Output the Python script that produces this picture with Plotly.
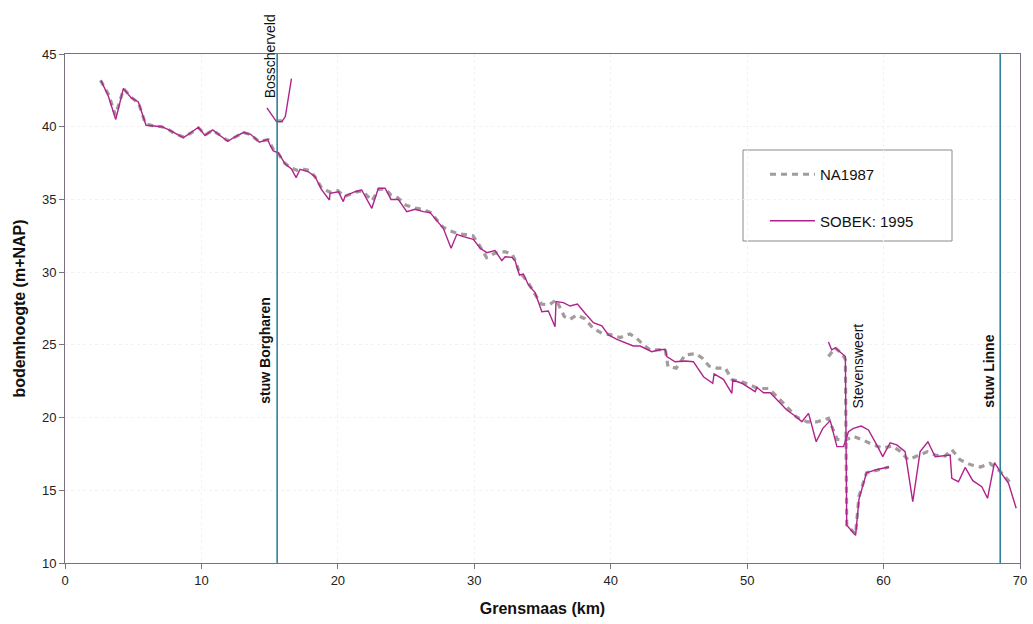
import plotly.graph_objects as go

# ---------------- data ----------------
sobek_km = [2.64, 3.18, 3.72, 4.28, 4.84, 5.38, 5.94, 6.48, 7.09, 7.58,
            8.14, 8.68, 9.24, 9.78, 10.26, 10.83, 11.36, 11.93, 12.46, 13.07,
            13.61, 14.25, 14.86, 15.03, 15.27, 15.64, 16.13, 16.6, 16.94, 17.23,
            17.84, 18.33, 18.82, 19.38, 19.43, 20.04, 20.4, 20.53, 21.26, 21.75,
            22.49, 22.97, 23.46, 23.9, 24.43, 25.05, 25.66, 26.27, 26.76, 27.73,
            28.3, 28.72, 29.2, 29.93, 30.43, 30.92, 31.52, 32.02, 32.26, 32.75,
            32.99, 33.31, 33.6, 33.97, 34.46, 34.95, 35.43, 35.92, 35.99, 36.53,
            37.02, 37.56, 38.12, 38.73, 39.35, 39.83, 40.45, 41.06, 41.66, 42.16,
            42.52, 43.01, 43.5, 43.99, 44.11, 44.72, 45.45, 46.06, 46.8, 47.48,
            47.58, 48.26, 48.88, 48.95, 49.61, 50.1, 50.59, 50.71, 51.2, 51.69,
            52.18, 52.91, 53.52, 54.01, 54.5, 55.06, 55.55, 56.09, 56.58, 57.06,
            57.43, 57.79, 58.36, 58.89, 59.5, 59.94, 60.48, 60.97, 61.58, 62.14,
            62.68, 63.25, 63.78, 64.39, 64.88, 65.0, 65.49, 65.98, 66.54, 67.2,
            67.62, 68.13, 68.55, 69.16, 69.72]
sobek_h = [43.17, 42.1, 40.5, 42.64, 42.0, 41.7, 40.1, 40.05, 40.0, 39.8,
           39.5, 39.25, 39.6, 39.96, 39.4, 39.78, 39.4, 39.0, 39.3, 39.6,
           39.48, 38.93, 39.13, 38.74, 38.33, 38.2, 37.45, 37.1, 36.5, 37.07,
           36.9, 36.56, 35.65, 34.96, 35.42, 35.53, 34.85, 35.24, 35.53, 35.65,
           34.39, 35.77, 35.77, 35.0, 35.0, 34.16, 34.32, 34.16, 34.09, 33.01,
           31.64, 32.6, 32.44, 32.26, 31.64, 31.34, 31.48, 30.79, 31.06, 31.02,
           30.79, 29.8, 29.87, 29.12, 28.59, 27.28, 27.33, 26.25, 27.97, 27.9,
           27.67, 27.81, 27.17, 26.53, 26.3, 25.68, 25.38, 25.15, 24.92, 24.92,
           24.76, 24.53, 24.65, 24.69, 24.19, 23.84, 23.89, 23.84, 22.81, 22.36,
           23.0, 22.63, 21.67, 22.58, 22.36, 22.08, 21.78, 22.08, 21.71, 21.71,
           21.21, 20.52, 20.11, 19.72, 20.29, 18.34, 19.26, 19.79, 18.0, 18.0,
           19.03, 19.26, 19.42, 19.15, 18.12, 17.31, 18.27, 18.12, 17.66, 14.22,
           17.66, 18.34, 17.31, 17.36, 17.43, 15.82, 15.59, 16.57, 15.66, 15.25,
           14.45, 16.9, 16.28, 15.48, 13.76]

na_km = [2.6, 3.2, 3.7, 4.3, 4.9, 5.4, 5.9, 6.5, 7.1, 7.6,
         8.1, 8.7, 9.2, 9.8, 10.3, 10.8, 11.4, 11.9, 12.5, 13.1,
         13.6, 14.2, 14.9, 15.3, 15.6, 16.1, 16.5, 17.0, 17.4, 17.9,
         18.3, 18.8, 19.4, 20.0, 20.5, 21.3, 21.8, 22.5, 23.0, 23.5,
         23.9, 24.4, 25.0, 25.7, 26.3, 26.8, 27.7, 28.2, 28.8, 29.2,
         29.9, 30.4, 30.9, 31.5, 32.0, 32.3, 32.8, 33.0, 33.3, 33.6,
         34.0, 34.5, 34.95, 35.5, 36.0, 36.6, 37.0, 37.5, 38.1, 38.7,
         39.35, 39.96, 40.7, 41.4, 41.9, 42.4, 42.9, 43.5, 44.0, 44.2,
         44.8, 45.45, 46.2, 46.7, 47.2, 47.8, 48.4, 48.9, 49.5, 50.2,
         50.8, 51.6, 52.2, 52.9, 53.6, 54.4, 55.1, 55.96, 56.6, 57.2,
         57.8, 58.5, 59.3, 60.0, 60.6, 61.2, 61.8, 62.4, 63.2, 63.9,
         64.5, 65.0, 65.6, 66.4, 67.1, 67.8, 68.55, 69.3]
na_h = [43.2, 42.2, 40.8, 42.6, 42.0, 41.6, 40.2, 40.05, 40.0, 39.8,
        39.5, 39.3, 39.55, 39.9, 39.45, 39.75, 39.4, 39.05, 39.3, 39.6,
        39.45, 39.0, 39.1, 38.4, 38.2, 37.5, 37.2, 37.0, 37.1, 37.0,
        36.6, 35.8, 35.5, 35.6, 35.2, 35.5, 35.6, 34.9, 35.7, 35.7,
        35.3, 35.1, 34.6, 34.4, 34.3, 34.1, 33.1, 32.85, 32.65, 32.6,
        32.5, 31.8, 31.0, 31.3, 31.4, 31.4, 31.2, 30.8, 30.0, 29.7,
        29.2, 28.4, 27.8, 27.75, 28.1, 26.95, 26.75, 27.05, 26.8, 26.15,
        25.8, 25.7, 25.5, 25.75, 25.45, 25.0, 24.65, 24.65, 24.7, 23.5,
        23.4, 24.3, 24.4, 24.1, 23.55, 23.4, 23.4, 22.6, 22.5, 22.25,
        22.0, 22.0, 21.45, 20.75, 20.05, 19.7, 19.7, 19.95, 18.5, 18.45,
        18.7, 18.45, 18.1, 17.9, 18.05, 17.7, 17.1, 17.35, 17.65, 17.4,
        17.35, 17.8, 17.1, 16.75, 16.6, 16.85, 16.3, 15.5]

# side branches
bossch_sobek_km = [14.8, 15.5, 15.9, 16.15, 16.6]
bossch_sobek_h = [41.3, 40.35, 40.35, 40.7, 43.3]
bossch_na_km = [15.5, 15.9, 16.2]
bossch_na_h = [40.4, 40.4, 40.6]

stev_sobek_km = [55.96, 56.2, 56.45, 56.94, 57.2, 57.3, 57.95, 58.2, 58.75, 59.6, 60.4]
stev_sobek_h = [25.2, 24.65, 24.8, 24.42, 24.2, 12.6, 11.9, 14.4, 16.2, 16.45, 16.6]
stev_na_km = [55.96, 56.45, 56.94, 57.2, 57.3, 57.95, 58.2, 58.75, 59.6, 60.4]
stev_na_h = [24.2, 24.8, 24.4, 24.0, 12.6, 12.0, 14.6, 16.2, 16.4, 16.6]

weirs_km = [15.55, 68.55]

x_ticks = [0, 10, 20, 30, 40, 50, 60, 70]
y_ticks = [10, 15, 20, 25, 30, 35, 40, 45]

FONT = "Liberation Sans, Arial, sans-serif"
GRAY = "#a39c9c"
MAG = "#b0228c"
TEAL = "#2f8199"

W, H = 1033, 624
ML, MR, MT, MB = 65, 13, 54, 61
PW, PH = W - ML - MR, H - MT - MB


def px2paper(px, py):
    return (px - ML) / PW, (H - MB - py) / PH


def join(*segs):
    xs, ys = [], []
    for i, (sx, sy) in enumerate(segs):
        if i:
            xs.append(None)
            ys.append(None)
        xs += sx
        ys += sy
    return xs, ys


na_x, na_y = join((na_km, na_h), (bossch_na_km, bossch_na_h), (stev_na_km, stev_na_h))
sb_x, sb_y = join((sobek_km, sobek_h), (bossch_sobek_km, bossch_sobek_h), (stev_sobek_km, stev_sobek_h))

fig = go.Figure()
fig.add_trace(go.Scatter(x=na_x, y=na_y, mode="lines", name="NA1987",
                         line=dict(color=GRAY, width=3.2, dash="6px,5px"),
                         legendgroup="a", connectgaps=False))
fig.add_trace(go.Scatter(x=sb_x, y=sb_y, mode="lines", name="SOBEK: 1995",
                         line=dict(color=MAG, width=1.4),
                         legendgroup="b", connectgaps=False))

for wx in weirs_km:
    fig.add_shape(type="line", x0=wx, x1=wx, y0=10, y1=45, xref="x", yref="y",
                  line=dict(color=TEAL, width=1.6))

# legend frame
lx0, ly0 = px2paper(743, 241)
lx1, ly1 = px2paper(952, 150)
fig.add_shape(type="rect", xref="paper", yref="paper", x0=lx0, x1=lx1, y0=ly0, y1=ly1,
              line=dict(color="#8a8a8a", width=1), fillcolor="white", layer="below")

ann = [
    dict(x=15.05, y=(H - MB - 56) / PH, yref="paper", text="Bosscherveld", bold=False),
    dict(x=14.66, y=24.6, yref="y", text="stuw Borgharen", bold=True),
    dict(x=58.1, y=23.55, yref="y", text="Stevensweert", bold=False),
    dict(x=67.7, y=23.2, yref="y", text="stuw Linne", bold=True),
]
for a in ann:
    txt = f"<b>{a['text']}</b>" if a["bold"] else a["text"]
    fig.add_annotation(x=a["x"], y=a["y"], xref="x", yref=a["yref"], text=txt,
                       textangle=-90, showarrow=False,
                       font=dict(family=FONT, size=14, color="#111111"),
                       xanchor="center", yanchor="middle")

lgx, lgy = px2paper(765, 158)
fig.update_layout(
    width=W, height=H,
    margin=dict(l=ML, r=MR, t=MT, b=MB, autoexpand=False),
    paper_bgcolor="white", plot_bgcolor="white",
    font=dict(family=FONT, size=13, color="#222222"),
    showlegend=True,
    legend=dict(x=lgx, y=lgy, xanchor="left", yanchor="top",
                bgcolor="rgba(0,0,0,0)", borderwidth=0,
                font=dict(family=FONT, size=15, color="#111111"),
                traceorder="grouped", tracegroupgap=24, itemwidth=45),
    xaxis=dict(range=[0, 70], tickvals=x_ticks, showgrid=True,
               gridcolor="#f2f2f2", griddash="dot", zeroline=False,
               showline=True, linecolor="#7a7080", linewidth=1, mirror=True,
               ticks="outside", ticklen=5, tickcolor="#7a7080", automargin=False,
               title=dict(text="<b>Grensmaas (km)</b>", font=dict(size=16, color="#111111"),
                          standoff=16)),
    yaxis=dict(range=[10, 45], tickvals=y_ticks, showgrid=True,
               gridcolor="#f2f2f2", griddash="dot", zeroline=False,
               showline=True, linecolor="#7a7080", linewidth=1, mirror=True,
               ticks="outside", ticklen=5, tickcolor="#7a7080", automargin=False,
               title=dict(text="<b>bodemhoogte (m+NAP)</b>", font=dict(size=16, color="#111111"),
                          standoff=12)),
)

fig.write_html("out.html")
